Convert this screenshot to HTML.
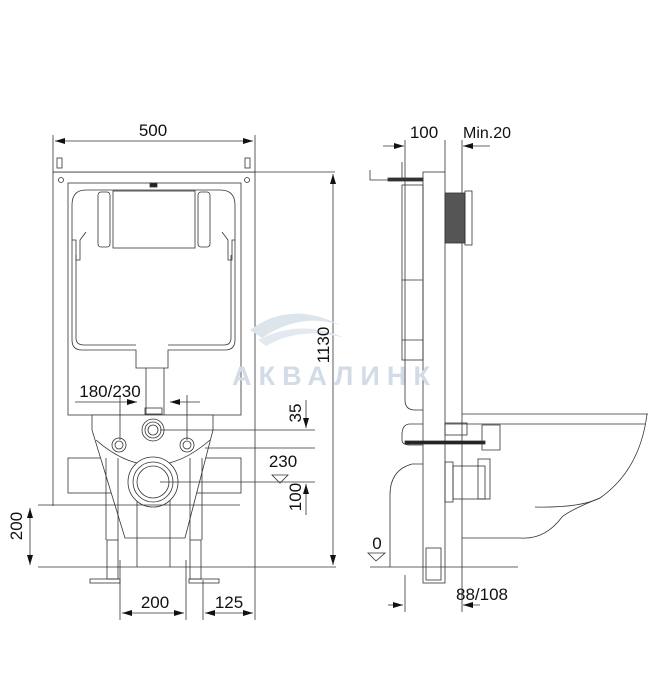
<!DOCTYPE html>
<html><head><meta charset="utf-8"><style>
html,body{margin:0;padding:0;background:#fff}
svg{display:block}
text{font-family:"Liberation Sans",sans-serif;fill:#111}
</style></head><body>
<svg width="664" height="700" viewBox="0 0 664 700" xmlns="http://www.w3.org/2000/svg">
<defs>
<marker id="a" viewBox="0 0 10 6" refX="10" refY="3" markerWidth="10" markerHeight="6" orient="auto-start-reverse" markerUnits="userSpaceOnUse"><path d="M0,0L10,3L0,6z" fill="#111"/></marker>
</defs>
<g stroke="#333" stroke-width="0.8" fill="none">
<line x1="53" y1="135" x2="53" y2="506"/>
<line x1="255" y1="135" x2="255" y2="620"/>
<line x1="55" y1="141" x2="253" y2="141" marker-start="url(#a)" marker-end="url(#a)"/>
<rect x="53" y="172" width="202" height="0.1"/>
<line x1="255" y1="172" x2="335" y2="172"/>
<rect x="57" y="158" width="5" height="10"/><rect x="245" y="158" width="5" height="10"/>
<circle cx="61" cy="180" r="2.5"/><circle cx="247" cy="180" r="2.5"/>
<rect x="68" y="183" width="173" height="232"/>
<path d="M86,190 H220 Q235,190 235,205 V240 H232 V260 H228 V240 L222,232"/>
<path d="M86,190 Q72,190 72,205 V240 H76 V260 H80 V240 L86,232"/>
<path d="M72,240 V340 Q72,350 82,350 H136 V368 H168 V350 H225 Q235,350 235,340 V240"/>
<path d="M76,255 V338 Q76,345 84,345 H136 M168,345 H224 Q231,345 231,338 V255"/>
<rect x="113" y="191" width="82" height="57"/>
<rect x="98" y="192" width="12" height="55" rx="3"/><rect x="198" y="192" width="12" height="55" rx="3"/>
<rect x="150" y="183" width="7" height="4" fill="#222"/>
<line x1="146" y1="368" x2="146" y2="415"/><line x1="164" y1="368" x2="164" y2="415"/>
<rect x="68" y="458" width="173" height="35"/>
<path d="M92,415 H213 V430 L185,538 H125 L92,430 Z" fill="#fff"/>
<path d="M96,440 Q153,490 210,440"/>
<line x1="106" y1="458" x2="106" y2="540"/><line x1="118" y1="458" x2="118" y2="540"/>
<line x1="190" y1="458" x2="190" y2="540"/><line x1="202" y1="458" x2="202" y2="540"/>
<line x1="137" y1="480" x2="137" y2="567"/><line x1="170" y1="480" x2="170" y2="567"/>
<circle cx="153" cy="482" r="25" fill="#fff"/><circle cx="153" cy="482" r="20"/><circle cx="153" cy="482" r="16"/>
<circle cx="153" cy="430" r="11" fill="#fff"/><circle cx="153" cy="430" r="8"/><circle cx="153" cy="430" r="5"/>
<circle cx="119" cy="445" r="7"/><circle cx="119" cy="445" r="4"/>
<circle cx="187" cy="445" r="7"/><circle cx="187" cy="445" r="4"/>
<rect x="145" y="408" width="17" height="6"/>
<rect x="107" y="540" width="11" height="39"/><rect x="190" y="540" width="11" height="39"/>
<rect x="90" y="579" width="30" height="4"/><rect x="189" y="579" width="30" height="4"/>
<line x1="38" y1="505" x2="240" y2="505"/>
<line x1="38" y1="567" x2="336" y2="567"/>
<line x1="30" y1="508" x2="30" y2="565" marker-start="url(#a)" marker-end="url(#a)"/>
<line x1="120" y1="560" x2="120" y2="620"/><line x1="186" y1="560" x2="186" y2="620"/><line x1="203" y1="580" x2="203" y2="620"/>
<line x1="122" y1="613" x2="184" y2="613" marker-start="url(#a)" marker-end="url(#a)"/>
<line x1="205" y1="613" x2="253" y2="613" marker-start="url(#a)" marker-end="url(#a)"/>
<line x1="75" y1="402" x2="137" y2="402" marker-end="url(#a)"/>
<line x1="200" y1="402" x2="170" y2="402" marker-end="url(#a)"/>
<line x1="120" y1="395" x2="120" y2="440"/><line x1="187" y1="395" x2="187" y2="440"/>
<line x1="333" y1="174" x2="333" y2="565" marker-start="url(#a)" marker-end="url(#a)"/>
<line x1="160" y1="430" x2="315" y2="430"/><line x1="205" y1="448" x2="315" y2="448"/>
<line x1="160" y1="482" x2="315" y2="482"/>
<line x1="306" y1="400" x2="306" y2="428" marker-end="url(#a)"/>
<line x1="306" y1="515" x2="306" y2="484" marker-end="url(#a)"/>
<path d="M272,475 H288 L280,483 Z"/>
<line x1="405" y1="140" x2="405" y2="360"/><line x1="445" y1="140" x2="445" y2="172"/>
<line x1="462" y1="140" x2="462" y2="612"/>
<line x1="383" y1="146" x2="404" y2="146" marker-end="url(#a)"/>
<line x1="490" y1="146" x2="463" y2="146" marker-end="url(#a)"/>
<rect x="423" y="172" width="22" height="411" fill="#fff"/>
<path d="M370,170 V180 H403 M402,162 V180"/>
<rect x="388" y="178" width="35" height="3" fill="#333"/>
<rect x="402" y="185" width="21" height="175"/>
<line x1="402" y1="280" x2="423" y2="280"/>
<line x1="402" y1="340" x2="423" y2="340"/>
<path d="M405,360 V400 Q405,410 415,410 H423"/>
<rect x="445" y="193" width="20" height="50" fill="#555"/><rect x="465" y="191" width="7" height="54"/>
<path d="M423,424 H410 Q402,424 402,435 V440 Q402,445 410,445 H423"/>
<rect x="405" y="441" width="80" height="3" fill="#222"/>
<rect x="445" y="423" width="22" height="12"/>
<path d="M482,425 L500,425 L500,450 L482,450 Z"/>
<rect x="445" y="462" width="8" height="40"/><rect x="453" y="466" width="32" height="33"/><rect x="478" y="459" width="12" height="40"/>
<path d="M423,464 H412 Q390,470 390,495 V567"/>
<rect x="426" y="548" width="15" height="32"/>
<line x1="462" y1="414" x2="648" y2="414"/><line x1="445" y1="424" x2="645" y2="424"/>
<path d="M647,414 Q640,470 600,498 Q570,510 562,517 Q545,540 520,538 H462"/>
<path d="M535,507 Q580,508 600,498"/>
<line x1="370" y1="567" x2="518" y2="567"/>
<path d="M368,553 H385 L376,561 Z"/>
<line x1="405" y1="575" x2="405" y2="612"/>
<line x1="388" y1="605" x2="403" y2="605" marker-end="url(#a)"/>
<line x1="480" y1="605" x2="463" y2="605" marker-end="url(#a)"/>
</g>
<path d="M250,330 Q290,300 340,325 Q300,312 262,338 Z" fill="#dce4ec"/>
<path d="M258,340 Q300,318 345,338 Q300,326 266,346 Z" fill="#e3e9f0"/>
<text x="232" y="385" font-size="27" font-weight="bold" style="fill:#d2dce6" textLength="198" lengthAdjust="spacing">АКВАЛИНК</text>
<text x="153" y="136" font-size="17" text-anchor="middle">500</text>
<text x="110" y="397" font-size="17" text-anchor="middle">180/230</text>
<text x="283" y="467" font-size="17" text-anchor="middle">230</text>
<text x="155" y="608" font-size="17" text-anchor="middle">200</text>
<text x="229" y="608" font-size="17" text-anchor="middle">125</text>
<text transform="translate(22,526) rotate(-90)" font-size="17" text-anchor="middle">200</text>
<text transform="translate(329,345) rotate(-90)" font-size="17" text-anchor="middle">1130</text>
<text transform="translate(301,413) rotate(-90)" font-size="17" text-anchor="middle">35</text>
<text transform="translate(301,497) rotate(-90)" font-size="17" text-anchor="middle">100</text>
<text x="424" y="138" font-size="17" text-anchor="middle">100</text>
<text x="463" y="138" font-size="16">Min.20</text>
<text x="377" y="549" font-size="17" text-anchor="middle">0</text>
<text x="456" y="600" font-size="17">88/108</text>
</svg>
</body></html>
